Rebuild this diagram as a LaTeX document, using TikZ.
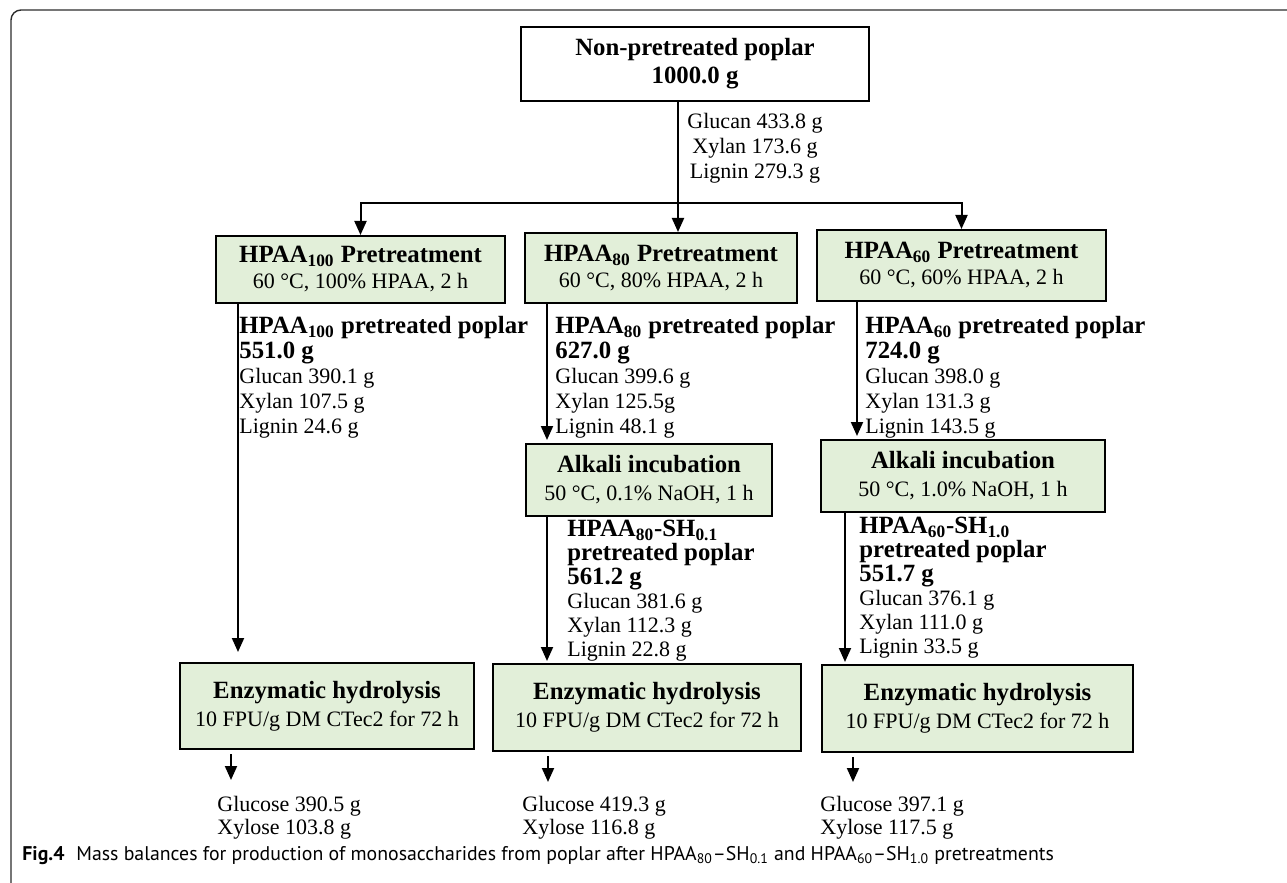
\documentclass[tikz,border=0pt]{standalone}
\usepackage{fontspec}
\setmainfont{Liberation Serif}
\newfontfamily\capfont{PT Sans}
\usetikzlibrary{arrows.meta}
\definecolor{boxgreen}{RGB}{226,239,217}
\definecolor{framegray}{RGB}{45,45,45}
\newcommand{\boxhead}[1]{{\fontsize{12.4}{13}\selectfont\bfseries #1}}

\begin{document}
\begin{tikzpicture}[
        x=0.5pt, y=-0.5pt,
        box/.style={rectangle, draw, line width=1pt, inner sep=0pt, align=center, font=\fontsize{11}{13}\selectfont},
        greenbox/.style={box, fill=boxgreen},
        mass/.style={anchor=north west, inner sep=0pt, align=left, font=\fontsize{11}{12.5}\selectfont},
        link/.style={line width=1pt},
        arrow/.style={-{Triangle[length=7pt, width=6pt]}, line width=1pt}
    ]
        \useasboundingbox (0,0) rectangle (1287,883);

        % frame
        \draw[framegray, line width=0.7pt, rounded corners=5pt] (1287,10) -- (11,10) -- (11,883);

        % raw material
        \node[box, minimum width=174pt, minimum height=37pt] (raw) at (695,64) {\boxhead{Non-pretreated poplar}\\[1pt]\boxhead{1000.0 g}};
        \node[anchor=north, inner sep=0pt, align=center, font=\fontsize{11}{12.5}\selectfont] (rawmass) at (755,113) {Glucan 433.8 g\\Xylan 173.6 g\\Lignin 279.3 g};

        % pretreatments
        \node[greenbox, minimum width=144.5pt, minimum height=33.5pt] (pre100) at (360.5,269.5) {\boxhead{HPAA\textsubscript{100} Pretreatment}\\60 °C, 100\% HPAA, 2 h};
        \node[greenbox, minimum width=136pt, minimum height=35pt] (pre80) at (661,268) {\boxhead{HPAA\textsubscript{80} Pretreatment}\\60 °C, 80\% HPAA, 2 h};
        \node[greenbox, minimum width=144.5pt, minimum height=35.5pt] (pre60) at (961.5,265.5) {\boxhead{HPAA\textsubscript{60} Pretreatment}\\60 °C, 60\% HPAA, 2 h};

        \coordinate (split) at (678,203);
        \draw[link] (raw.south -| split) -- (split);
        \draw[arrow] (split) -- (split |- pre80.north);
        \draw[arrow] (split) -| (pre100.north);
        \draw[arrow] (split) -| (pre60.north);

        % pretreated solids
        \node[mass] (m100) at (239,316) {\boxhead{HPAA\textsubscript{100} pretreated poplar}\\\boxhead{551.0 g}\\Glucan 390.1 g\\Xylan 107.5 g\\Lignin 24.6 g};
        \node[mass] (m80) at (555,316) {\boxhead{HPAA\textsubscript{80} pretreated poplar}\\\boxhead{627.0 g}\\Glucan 399.6 g\\Xylan 125.5g\\Lignin 48.1 g};
        \node[mass] (m60) at (865,316) {\boxhead{HPAA\textsubscript{60} pretreated poplar}\\\boxhead{724.0 g}\\Glucan 398.0 g\\Xylan 131.3 g\\Lignin 143.5 g};

        % alkali step
        \node[greenbox, minimum width=123pt, minimum height=36pt] (alk80) at (649,480) {\boxhead{Alkali incubation}\\[1pt]50 °C, 0.1\% NaOH, 1 h};
        \node[greenbox, minimum width=142pt, minimum height=36pt] (alk60) at (963,476) {\boxhead{Alkali incubation}\\[1pt]50 °C, 1.0\% NaOH, 1 h};

        \node[mass, font=\fontsize{11}{12}\selectfont] (m80sh) at (567,520) {\boxhead{HPAA\textsubscript{80}-SH\textsubscript{0.1}}\\\boxhead{pretreated poplar}\\\boxhead{561.2 g}\\Glucan 381.6 g\\Xylan 112.3 g\\Lignin 22.8 g};
        \node[mass, font=\fontsize{11}{12}\selectfont] (m60sh) at (859,517) {\boxhead{HPAA\textsubscript{60}-SH\textsubscript{1.0}}\\\boxhead{pretreated poplar}\\\boxhead{551.7 g}\\Glucan 376.1 g\\Xylan 111.0 g\\Lignin 33.5 g};

        % hydrolysis
        \node[greenbox, minimum width=147pt, minimum height=43pt] (enz100) at (327,706) {\boxhead{Enzymatic hydrolysis}\\[1pt]10 FPU/g DM CTec2 for 72 h};
        \node[greenbox, minimum width=154pt, minimum height=43.5pt] (enz80) at (647,707.5) {\boxhead{Enzymatic hydrolysis}\\[1pt]10 FPU/g DM CTec2 for 72 h};
        \node[greenbox, minimum width=155.5pt, minimum height=43.5pt] (enz60) at (977.5,708.5) {\boxhead{Enzymatic hydrolysis}\\[1pt]10 FPU/g DM CTec2 for 72 h};

        \node[mass, font=\fontsize{11}{11.5}\selectfont] (glc100) at (217,796) {Glucose 390.5 g\\Xylose 103.8 g};
        \node[mass, font=\fontsize{11}{11.5}\selectfont] (glc80) at (522,796) {Glucose 419.3 g\\Xylose 116.8 g};
        \node[mass, font=\fontsize{11}{11.5}\selectfont] (glc60) at (820,796) {Glucose 397.1 g\\Xylose 117.5 g};

        % flow lines
        \coordinate (l100) at (238,0);
        \coordinate (l80) at (547,0);
        \coordinate (l60) at (857,0);
        \coordinate (l60b) at (845,0);
        \draw[arrow, shorten >=5pt] (l100 |- pre100.south) -- (l100 |- enz100.north);
        \draw[arrow, shorten >=1.5pt] (l80 |- pre80.south) -- (l80 |- alk80.north);
        \draw[arrow, shorten >=1pt] (l80 |- alk80.south) -- (l80 |- enz80.north);
        \draw[arrow, shorten >=1.5pt] (l60 |- pre60.south) -- (l60 |- alk60.north);
        \draw[arrow, shorten >=1pt] (l60b |- alk60.south) -- (l60b |- enz60.north);

        % products
        \coordinate (o100) at (231,0);
        \coordinate (o80) at (548,0);
        \coordinate (o60) at (853,0);
        \draw[arrow, shorten <=2pt, shorten >=8pt] (o100 |- enz100.south) -- (o100 |- glc100.north);
        \draw[arrow, shorten <=2pt, shorten >=7pt] (o80 |- enz80.south) -- (o80 |- glc80.north);
        \draw[arrow, shorten <=2pt, shorten >=7pt] (o60 |- enz60.south) -- (o60 |- glc60.north);

        % caption
        \node[anchor=west, inner sep=0pt, font=\capfont\fontsize{9.9}{11}\selectfont] (caption) at (22,856) {\textbf{Fig.4}\hspace{0.6em}Mass balances for production of monosaccharides from poplar after HPAA\textsubscript{80}–SH\textsubscript{0.1} and HPAA\textsubscript{60}–SH\textsubscript{1.0} pretreatments};

    \end{tikzpicture}
\end{document}
